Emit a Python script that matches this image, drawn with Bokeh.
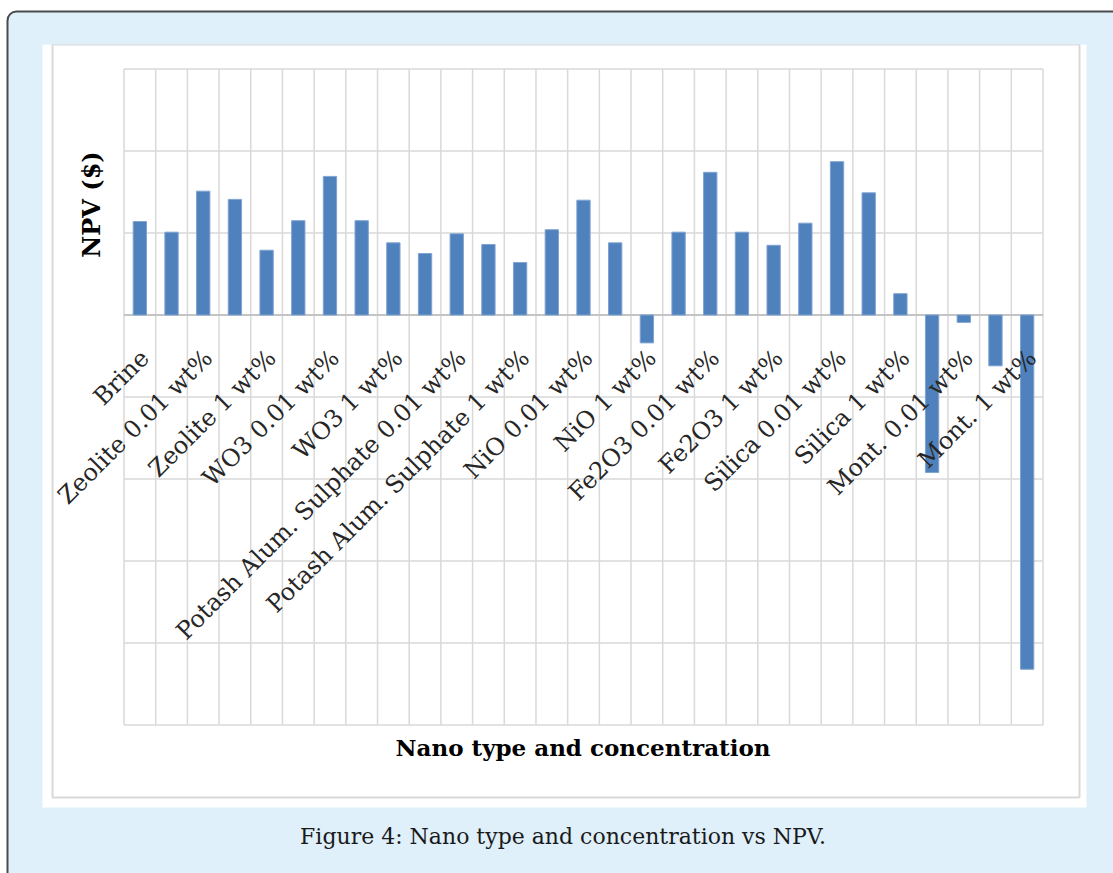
import math
from bokeh.plotting import figure
from bokeh.models import (Range1d, BoxAnnotation, Label, LabelSet,
                          ColumnDataSource)
from bokeh.embed import file_html
from bokeh.resources import INLINE
from bokeh.core.properties import value

# ---------------- data ----------------
categories = [
    "Brine",
    "Zeolite 0.001 wt%", "Zeolite 0.01 wt%", "Zeolite 0.1 wt%", "Zeolite 1 wt%",
    "WO3 0.001 wt%", "WO3 0.01 wt%", "WO3 0.1 wt%", "WO3 1 wt%",
    "Potash Alum. Sulphate 0.001 wt%", "Potash Alum. Sulphate 0.01 wt%",
    "Potash Alum. Sulphate 0.1 wt%", "Potash Alum. Sulphate 1 wt%",
    "NiO 0.001 wt%", "NiO 0.01 wt%", "NiO 0.1 wt%", "NiO 1 wt%",
    "Fe2O3 0.001 wt%", "Fe2O3 0.01 wt%", "Fe2O3 0.1 wt%", "Fe2O3 1 wt%",
    "Silica 0.001 wt%", "Silica 0.01 wt%", "Silica 0.1 wt%", "Silica 1 wt%",
    "Mont. 0.001 wt%", "Mont. 0.01 wt%", "Mont. 0.1 wt%", "Mont. 1 wt%",
]
npv = [1.14, 1.01, 1.51, 1.41, 0.79, 1.15, 1.69, 1.15, 0.88, 0.75,
       0.99, 0.86, 0.64, 1.04, 1.40, 0.88, -0.34, 1.01, 1.74, 1.01,
       0.85, 1.12, 1.87, 1.49, 0.26, -1.92, -0.09, -0.62, -4.32]
tick_labels = [
    "Brine", "Zeolite 0.01 wt%", "Zeolite 1 wt%", "WO3 0.01 wt%", "WO3 1 wt%",
    "Potash Alum. Sulphate 0.01 wt%", "Potash Alum. Sulphate 1 wt%",
    "NiO 0.01 wt%", "NiO 1 wt%", "Fe2O3 0.01 wt%", "Fe2O3 1 wt%",
    "Silica 0.01 wt%", "Silica 1 wt%", "Mont. 0.01 wt%", "Mont. 1 wt%",
]
y_ticks = [-5, -4, -3, -2, -1, 0, 1, 2, 3]
x_title = "Nano type and concentration"
y_title = "NPV ($)"
caption = "Figure 4: Nano type and concentration vs NPV."

# ---------------- layout ----------------
W, H = 1113, 873
n = len(categories)
# pixel box of the plotting area inside the canvas
PL, PR, PT, PB = 123.5, 1042.5, 68.5, 724.5
ppx = (PR - PL) / n
ppy = (PB - PT) / (y_ticks[-1] - y_ticks[0])
x0, x1 = -0.5, n - 0.5
y0, y1 = y_ticks[0], y_ticks[-1]


def X(px):
    return x0 + (px - PL) / ppx


def Y(py):
    return y1 - (py - PT) / ppy


BLUE = "#dff0fa"
GRID = "#d9d9d9"
SERIF = "DejaVu Serif"

p = figure(width=W, height=H,
           x_range=Range1d(X(0), X(W)), y_range=Range1d(Y(H), Y(0)),
           output_backend="svg", toolbar_location=None,
           x_axis_location=None, y_axis_location=None,
           min_border=0, min_border_left=0, min_border_right=0,
           min_border_top=0, min_border_bottom=0,
           border_fill_color="white", background_fill_color="white",
           outline_line_color=None)
p.center = []


def box(l, t, r, b, **kw):
    return BoxAnnotation(left=X(l), right=X(r), top=Y(t), bottom=Y(b),
                         level="image", **kw)


# light blue page frame with dark rounded border
p.add_layout(box(7, 11, W + 40, H + 40, fill_color=BLUE, fill_alpha=1,
                 line_color="#4a4a4a", line_alpha=1, line_width=2,
                 border_radius=9))
# white chart panel
p.add_layout(box(42, 44, 1086, 807, fill_color="white", fill_alpha=1,
                 line_alpha=0))
# thin grey chart border (top edge hidden under the page frame)
p.add_layout(box(52, 44, 1079, 797, fill_alpha=0, line_color=GRID,
                 line_alpha=1, line_width=2))
p.add_layout(box(42, 30, 1086, 44, fill_color=BLUE, fill_alpha=1,
                 line_alpha=0))

# grid lines (category boundaries and value ticks), limited to the plot area
bounds = [i - 0.5 for i in range(n + 1)]
p.segment(x0=bounds, y0=[y0] * len(bounds), x1=bounds, y1=[y1] * len(bounds),
          line_color=GRID, line_width=1.5, level="underlay")
p.segment(x0=[x0] * len(y_ticks), y0=y_ticks, x1=[x1] * len(y_ticks),
          y1=y_ticks, line_color=GRID, line_width=1.5, level="underlay")
p.segment(x0=[x0], y0=[0], x1=[x1], y1=[0], line_color="#c4c4c4",
          line_width=2, level="underlay")

# bars
src = ColumnDataSource(dict(x=list(range(n)), top=npv, cat=categories))
p.vbar(x="x", top="top", bottom=0, width=0.42, source=src,
       fill_color="#4f81bd", line_color="#7fa3d2", line_width=1)

# category labels (every other category, as in the original)
lab_x = [categories.index(t) for t in tick_labels]
lab_src = ColumnDataSource(dict(x=lab_x, y=[0] * len(lab_x), text=tick_labels))
p.add_layout(LabelSet(x="x", y="y", text="text", source=lab_src,
                      angle=math.pi / 4, text_align="right",
                      text_baseline="middle", x_offset=5, y_offset=-39,
                      text_font=value(SERIF), text_font_size="24px",
                      text_color="#262626"))

p.add_layout(Label(x=X(91), y=Y(204), text=y_title, angle=math.pi / 2,
                   text_align="center", text_baseline="middle",
                   text_font=SERIF, text_font_style="bold",
                   text_font_size="24px", text_color="black"))
p.add_layout(Label(x=X(582.5), y=Y(747), text=x_title, text_align="center",
                   text_baseline="middle", text_font=SERIF,
                   text_font_style="bold", text_font_size="23px",
                   text_color="black"))
p.add_layout(Label(x=X(562.5), y=Y(836), text=caption, text_align="center",
                   text_baseline="middle", text_font=SERIF,
                   text_font_size="22px", text_color="#1a1a1a"))

open("out.html", "w").write(file_html(p, INLINE))
